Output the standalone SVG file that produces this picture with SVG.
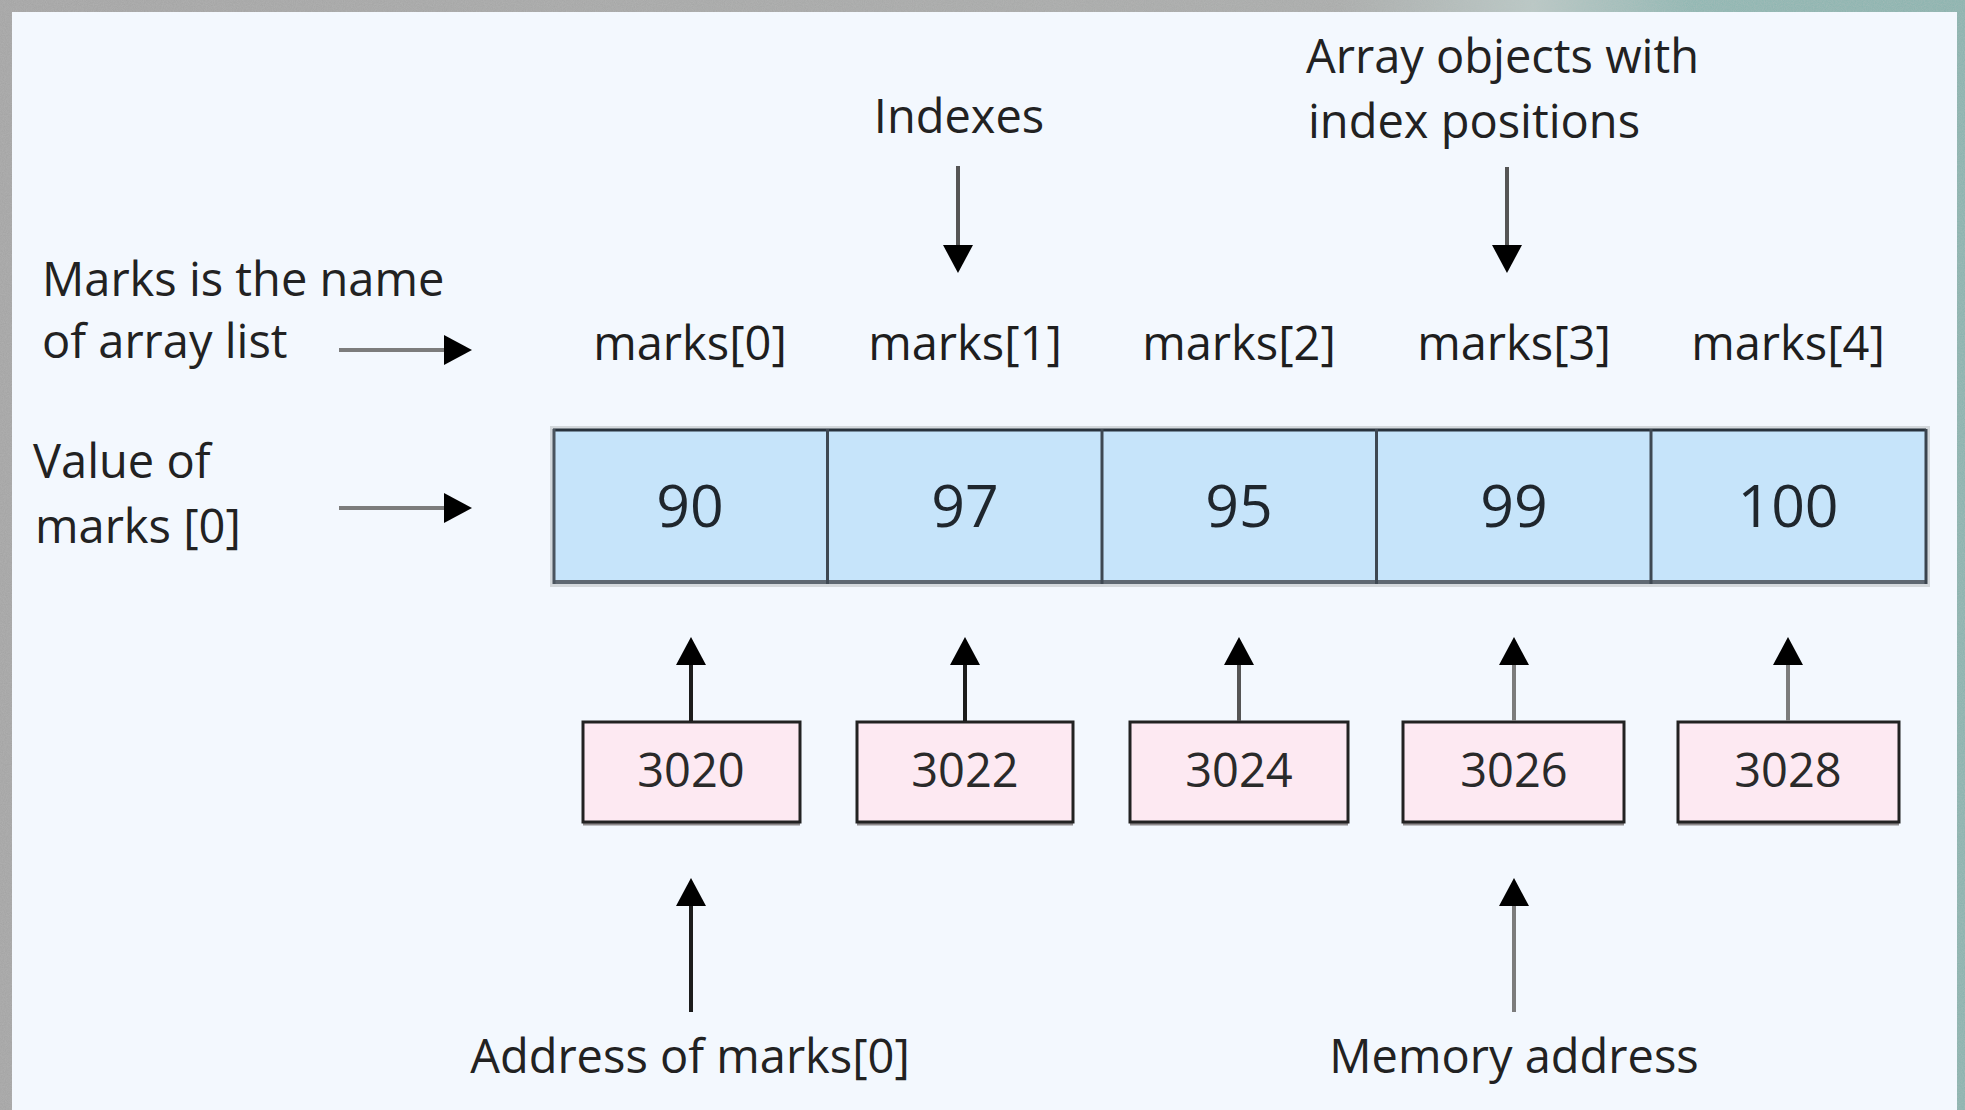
<svg xmlns="http://www.w3.org/2000/svg" width="1965" height="1110" viewBox="0 0 1965 1110">
  <defs>
    <style>
      .lbl { font-family: "Open Sans", "Noto Sans", "Liberation Sans", sans-serif; font-size: 47px; fill: #222; }
      .idx { font-family: "Open Sans", "Noto Sans", "Liberation Sans", sans-serif; font-size: 47px; fill: #1e1e1e; text-anchor: middle; }
      .val { font-family: "Open Sans", "Noto Sans", "Liberation Sans", sans-serif; font-size: 59px; fill: #1f262d; text-anchor: middle; }
      .addr { font-family: "Open Sans", "Noto Sans", "Liberation Sans", sans-serif; font-size: 47px; fill: #2a2a2a; text-anchor: middle; }
      .cell { fill: #c6e4fa; }
      .divider { stroke: #3e4852; stroke-width: 3; }
      .mem { fill: #fde9f2; stroke: #222; stroke-width: 3; }
      .memshadow { stroke: #8e8a8c; stroke-width: 5; }
      .shaft { fill: none; stroke-width: 4; }
      .dark { stroke: #1c1c1c; }
      .mid { stroke: #555; }
      .light { stroke: #7c7c7c; }
    </style>
    <marker id="head" markerUnits="userSpaceOnUse" markerWidth="30" markerHeight="32" refX="0" refY="16" orient="auto">
      <path d="M0,1 L28,16 L0,31 Z" fill="#000"/>
    </marker>
    <filter id="grain" x="0" y="0" width="100%" height="100%">
      <feTurbulence type="fractalNoise" baseFrequency="0.9" numOctaves="2" seed="4" result="n"/>
      <feColorMatrix in="n" type="matrix" values="0 0 0 0 0.55  0 0 0 0 0.55  0 0 0 0 0.55  0 0 0 0.9 0"/>
    </filter>
    <linearGradient id="edge" x1="0" y1="0" x2="1" y2="0">
      <stop offset="0" stop-color="#a3a3a3"/>
      <stop offset="0.68" stop-color="#a8aaa9"/>
      <stop offset="0.78" stop-color="#b9c9c6"/>
      <stop offset="0.86" stop-color="#8db7b2"/>
      <stop offset="1" stop-color="#88b3ae"/>
    </linearGradient>
  </defs>

  <!-- frame and panel -->
  <rect x="0" y="0" width="1965" height="1110" fill="url(#edge)"/>
  <rect x="0" y="0" width="1965" height="1110" filter="url(#grain)" opacity="0.45"/>
  <rect x="12" y="12" width="1945" height="1098" fill="#f3f8fe"/>

  <!-- side labels -->
  <g id="label-name">
    <text class="lbl" x="42" y="296">Marks is the name</text>
    <text class="lbl" x="42" y="358">of array list</text>
  </g>
  <g id="label-value">
    <text class="lbl" x="33" y="478">Value of</text>
    <text class="lbl" x="35" y="543">marks [0]</text>
  </g>
  <g id="label-indexes">
    <text class="lbl" x="959" y="133" text-anchor="middle">Indexes</text>
  </g>
  <g id="label-objects">
    <text class="lbl" x="1306" y="73">Array objects with</text>
    <text class="lbl" x="1308" y="138">index positions</text>
  </g>

  <!-- index names -->
  <g id="indexes">
    <text class="idx" x="690" y="360">marks[0]</text>
    <text class="idx" x="965" y="360">marks[1]</text>
    <text class="idx" x="1239" y="360">marks[2]</text>
    <text class="idx" x="1514" y="360">marks[3]</text>
    <text class="idx" x="1788" y="360">marks[4]</text>
  </g>

  <!-- array cells -->
  <g id="array">
    <rect x="550" y="426" width="1380" height="161" fill="#d3d8dc"/>
    <rect class="cell" x="553" y="429" width="1373" height="154"/>
    <line x1="553" y1="430" x2="1926" y2="430" stroke="#28323c" stroke-width="3"/>
    <line x1="553" y1="582" x2="1926" y2="582" stroke="#5e6872" stroke-width="4"/>
    <line x1="554" y1="429" x2="554" y2="584" stroke="#4a545e" stroke-width="3"/>
    <line x1="1926" y1="429" x2="1926" y2="584" stroke="#3a444e" stroke-width="3"/>
    <line class="divider" x1="827.5" y1="429" x2="827.5" y2="584"/>
    <line class="divider" x1="1102" y1="429" x2="1102" y2="584"/>
    <line class="divider" x1="1376.5" y1="429" x2="1376.5" y2="584"/>
    <line class="divider" x1="1651" y1="429" x2="1651" y2="584"/>
  </g>
  <g id="cell-0"><text class="val" x="690" y="527">90</text></g>
  <g id="cell-1"><text class="val" x="965" y="527">97</text></g>
  <g id="cell-2"><text class="val" x="1239" y="527">95</text></g>
  <g id="cell-3"><text class="val" x="1514" y="527">99</text></g>
  <g id="cell-4"><text class="val" x="1788" y="527">100</text></g>

  <!-- memory address boxes -->
  <g id="addr-3020">
    <line class="memshadow" x1="583" y1="823" x2="800" y2="823"/>
    <rect class="mem" x="583" y="722" width="217" height="100"/>
    <text class="addr" x="691" y="787">3020</text>
  </g>
  <g id="addr-3022">
    <line class="memshadow" x1="857" y1="823" x2="1073" y2="823"/>
    <rect class="mem" x="857" y="722" width="216" height="100"/>
    <text class="addr" x="965" y="787">3022</text>
  </g>
  <g id="addr-3024">
    <line class="memshadow" x1="1130" y1="823" x2="1348" y2="823"/>
    <rect class="mem" x="1130" y="722" width="218" height="100"/>
    <text class="addr" x="1239" y="787">3024</text>
  </g>
  <g id="addr-3026">
    <line class="memshadow" x1="1403" y1="823" x2="1624" y2="823"/>
    <rect class="mem" x="1403" y="722" width="221" height="100"/>
    <text class="addr" x="1514" y="787">3026</text>
  </g>
  <g id="addr-3028">
    <line class="memshadow" x1="1678" y1="823" x2="1899" y2="823"/>
    <rect class="mem" x="1678" y="722" width="221" height="100"/>
    <text class="addr" x="1788" y="787">3028</text>
  </g>

  <!-- bottom labels -->
  <g id="label-address0">
    <text class="lbl" x="690" y="1073" text-anchor="middle">Address of marks[0]</text>
  </g>
  <g id="label-memory">
    <text class="lbl" x="1514" y="1073" text-anchor="middle">Memory address</text>
  </g>

  <!-- connectors -->
  <g id="connectors" marker-end="url(#head)">
    <line class="shaft light" x1="339" y1="350" x2="444" y2="350" marker-end="url(#head)"/>
    <line class="shaft light" x1="339" y1="508" x2="444" y2="508" marker-end="url(#head)"/>
    <line class="shaft mid" x1="958" y1="166" x2="958" y2="245" marker-end="url(#head)"/>
    <line class="shaft mid" x1="1507" y1="167" x2="1507" y2="245" marker-end="url(#head)"/>
    <line class="shaft dark" x1="691" y1="721" x2="691" y2="665" marker-end="url(#head)"/>
    <line class="shaft dark" x1="965" y1="721" x2="965" y2="665" marker-end="url(#head)"/>
    <line class="shaft mid" x1="1239" y1="721" x2="1239" y2="665" marker-end="url(#head)"/>
    <line class="shaft light" x1="1514" y1="721" x2="1514" y2="665" marker-end="url(#head)"/>
    <line class="shaft light" x1="1788" y1="721" x2="1788" y2="665" marker-end="url(#head)"/>
    <line class="shaft dark" x1="691" y1="1012" x2="691" y2="906" marker-end="url(#head)"/>
    <line class="shaft light" x1="1514" y1="1012" x2="1514" y2="906" marker-end="url(#head)"/>
  </g>
</svg>
